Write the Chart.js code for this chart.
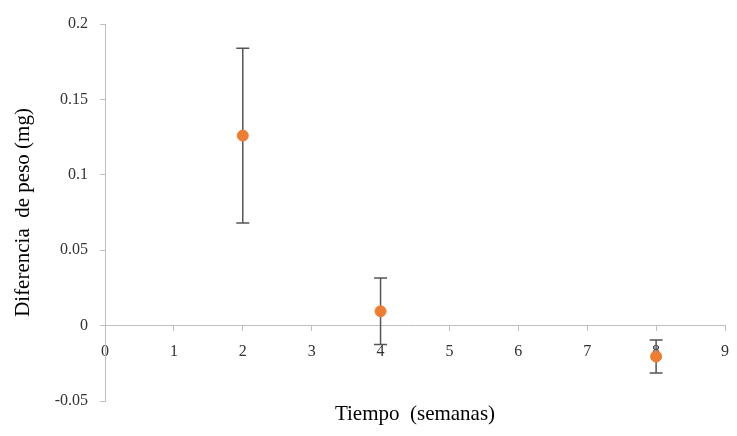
<!DOCTYPE html>
<html>
<head>
<meta charset="utf-8">
<script src="https://cdn.jsdelivr.net/npm/chart.js@4/dist/chart.umd.min.js"></script>
<style>
  html, body { margin: 0; padding: 0; background: #fff; }
  #wrap { width: 737px; height: 436px; }
</style>
</head>
<body>
<div id="wrap"><canvas id="pesoChart" width="737" height="436"></canvas></div>
<script>
// semanas y diferencia de peso (mg), con su error
const weeks = [2, 4, 8];
const pesoDiff = [0.126, 0.0095, -0.0205];
const pesoErr = [0.058, 0.022, 0.011];

const xLabel = "Tiempo  (semanas)";
const yLabel = "Diferencia  de peso (mg)";

// barras de error dibujadas con las escalas del grafico
const errorBars = {
  id: "errorBars",
  beforeDatasetsDraw(chart) {
    const { ctx, scales: { x, y } } = chart;
    ctx.save();
    ctx.strokeStyle = "#555555";
    ctx.lineWidth = 1.5;
    weeks.forEach((w, i) => {
      const px = x.getPixelForValue(w);
      const top = y.getPixelForValue(pesoDiff[i] + pesoErr[i]);
      const bot = y.getPixelForValue(pesoDiff[i] - pesoErr[i]);
      ctx.beginPath();
      ctx.moveTo(px, top); ctx.lineTo(px, bot);
      ctx.moveTo(px - 6.5, top); ctx.lineTo(px + 6.5, top);
      ctx.moveTo(px - 6.5, bot); ctx.lineTo(px + 6.5, bot);
      ctx.stroke();
    });
    ctx.restore();
  }
};

const ctx = document.getElementById("pesoChart").getContext("2d");
new Chart(ctx, {
  type: "scatter",
  data: {
    datasets: [{
      data: weeks.map((w, i) => ({ x: w, y: pesoDiff[i] })),
      backgroundColor: "#ED7D31",
      borderColor: "#ED7D31",
      pointRadius: 5.5
    }]
  },
  options: {
    responsive: false,
    animation: false,
    layout: { padding: { top: 24, right: 12, bottom: 35, left: 0 } },
    plugins: {
      legend: { display: false },
      tooltip: { enabled: false }
    },
    scales: {
      x: {
        type: "linear",
        position: { y: 0 },
        min: 0,
        max: 9,
        ticks: {
          stepSize: 1,
          color: "#333",
          padding: 12,
          font: { family: "Liberation Serif", size: 16 }
        },
        grid: { drawOnChartArea: false, drawTicks: true, tickLength: 5, color: "#bfbfbf" },
        border: { color: "#bfbfbf", width: 1 },
        title: {
          display: true,
          text: xLabel,
          color: "#000",
          font: { family: "Liberation Serif", size: 21 },
          padding: { top: 28, bottom: 0 }
        },
        afterFit(scale) { scale.paddingRight = 0; scale.paddingLeft = 0; }
      },
      y: {
        min: -0.05,
        max: 0.2,
        ticks: {
          stepSize: 0.05,
          color: "#333",
          padding: 12,
          font: { family: "Liberation Serif", size: 16 },
          callback: (v) => String(Math.round(v * 100) / 100)
        },
        grid: { drawOnChartArea: false, drawTicks: true, tickLength: 5, color: "#bfbfbf" },
        border: { color: "#bfbfbf", width: 1 },
        title: {
          display: true,
          text: yLabel,
          color: "#000",
          font: { family: "Liberation Serif", size: 21 },
          padding: { top: 11, bottom: 0 }
        },
        afterFit(scale) { scale.width = 105; }
      }
    }
  },
  plugins: [errorBars]
});
</script>
</body>
</html>
